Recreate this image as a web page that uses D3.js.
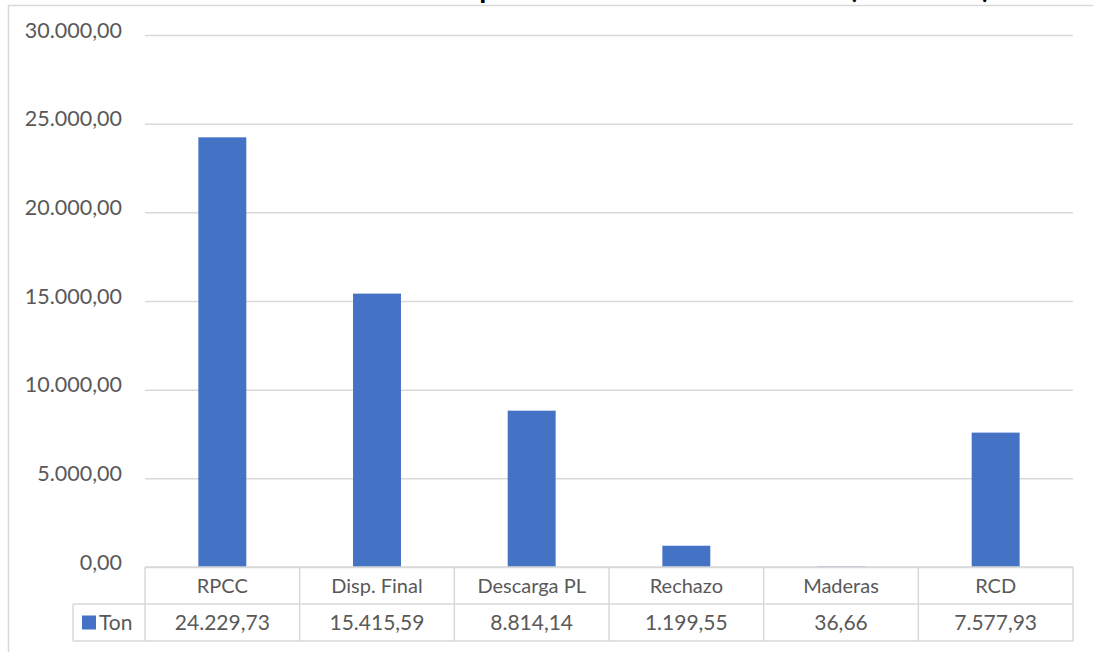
<!DOCTYPE html>
<html>
<head>
<meta charset="utf-8">
<script src="https://cdn.jsdelivr.net/npm/d3@7"></script>
<style>
  body { margin: 0; background: #fff; }
  svg { display: block; }
</style>
</head>
<body>
<div id="chartDiv"></div>
<script>
// data
var categories = ["RPCC", "Disp. Final", "Descarga PL", "Rechazo", "Maderas", "RCD"];
var ton = [24229.73, 15415.59, 8814.14, 1199.55, 36.66, 7577.93];
var yTicks = [0, 5000, 10000, 15000, 20000, 25000, 30000];
var seriesName = "Ton";
var title = "Disposición de Residuos Sólidos (Toneladas)";

function buildChart() {
  var width = 1093, height = 652;
  var plotLeft = 145, plotRight = 1073, plotTop = 35, plotBottom = 567;
  var rowH = 37;
  var grey = "#d9d9d9", txt = "#595959", blue = "#4472c4";
  var font = "Lato, 'Open Sans', sans-serif";

  var es = d3.formatLocale({ decimal: ",", thousands: ".", grouping: [3], currency: ["", ""] });
  var fmt = es.format(",.2f");

  var svg = d3.select("#chartDiv")
    .append("svg")
    .attr("width", width)
    .attr("height", height);

  // title, mostly cut off above the frame
  svg.append("text")
    .attr("x", 990)
    .attr("y", -2)
    .attr("text-anchor", "end")
    .attr("font-family", font)
    .attr("font-weight", "bold")
    .attr("font-size", 28.5)
    .attr("fill", "#000")
    .text(title);

  // chart outer border (only left and top visible)
  svg.append("path")
    .attr("d", "M8.5," + height + "V5.5H" + width)
    .attr("fill", "none")
    .attr("stroke", grey)
    .attr("stroke-width", 1.5);

  var x = d3.scaleBand().domain(categories).range([plotLeft, plotRight]);
  var y = d3.scaleLinear().domain([0, 30000]).range([plotBottom, plotTop]);

  // gridlines + labels
  var yAxis = svg.append("g")
    .attr("transform", "translate(" + plotLeft + ",0)")
    .call(d3.axisLeft(y).tickValues(yTicks).tickFormat(fmt)
      .tickSize(-(plotRight - plotLeft)).tickPadding(23));
  yAxis.select(".domain").remove();
  yAxis.selectAll(".tick line").attr("stroke", grey).attr("stroke-width", 1.5);
  yAxis.selectAll(".tick text")
    .attr("fill", txt)
    .attr("font-family", font)
    .attr("font-size", 21.5)
    .attr("dy", "0.1em");

  // bars
  var barW = x.bandwidth() * 0.31;
  svg.selectAll("rect.bar")
    .data(ton)
    .enter()
    .append("rect")
    .attr("class", "bar")
    .attr("x", function(d, i) { return x(categories[i]) + (x.bandwidth() - barW) / 2; })
    .attr("y", function(d) { return y(d); })
    .attr("width", barW)
    .attr("height", function(d) { return y(0) - y(d); })
    .attr("fill", blue);

  // data table
  var tbl = svg.append("g").attr("stroke", grey).attr("stroke-width", 1.5).attr("fill", "none");
  tbl.append("line").attr("x1", plotLeft).attr("x2", plotRight).attr("y1", plotBottom).attr("y2", plotBottom);
  tbl.append("line").attr("x1", 73).attr("x2", plotRight).attr("y1", plotBottom + rowH).attr("y2", plotBottom + rowH);
  tbl.append("line").attr("x1", 73).attr("x2", plotRight).attr("y1", plotBottom + 2 * rowH).attr("y2", plotBottom + 2 * rowH);
  tbl.append("line").attr("x1", 73).attr("x2", 73).attr("y1", plotBottom + rowH).attr("y2", plotBottom + 2 * rowH);
  tbl.selectAll("line.v")
    .data(categories.concat(["end"]))
    .enter()
    .append("line")
    .attr("class", "v")
    .attr("x1", function(d) { return d === "end" ? plotRight : x(d); })
    .attr("x2", function(d) { return d === "end" ? plotRight : x(d); })
    .attr("y1", plotBottom)
    .attr("y2", plotBottom + 2 * rowH);

  svg.selectAll("text.cat")
    .data(categories)
    .enter()
    .append("text")
    .attr("class", "cat")
    .attr("x", function(d) { return x(d) + x.bandwidth() / 2; })
    .attr("y", plotBottom + rowH / 2)
    .attr("dy", "0.35em")
    .attr("text-anchor", "middle")
    .attr("font-family", font)
    .attr("font-size", 20)
    .attr("fill", txt)
    .text(function(d) { return d; });

  svg.selectAll("text.val")
    .data(ton)
    .enter()
    .append("text")
    .attr("class", "val")
    .attr("x", function(d, i) { return x(categories[i]) + x.bandwidth() / 2; })
    .attr("y", plotBottom + rowH * 1.5)
    .attr("dy", "0.35em")
    .attr("text-anchor", "middle")
    .attr("font-family", font)
    .attr("font-size", 21)
    .attr("fill", txt)
    .text(function(d) { return fmt(d); });

  // legend key in the table
  svg.append("rect")
    .attr("x", 82).attr("y", plotBottom + rowH * 1.5 - 7)
    .attr("width", 14).attr("height", 14)
    .attr("fill", blue);
  svg.append("text")
    .attr("x", 99)
    .attr("y", plotBottom + rowH * 1.5)
    .attr("dy", "0.35em")
    .attr("font-family", font)
    .attr("font-size", 21)
    .attr("fill", txt)
    .text(seriesName);
}
buildChart();
</script>
</body>
</html>
